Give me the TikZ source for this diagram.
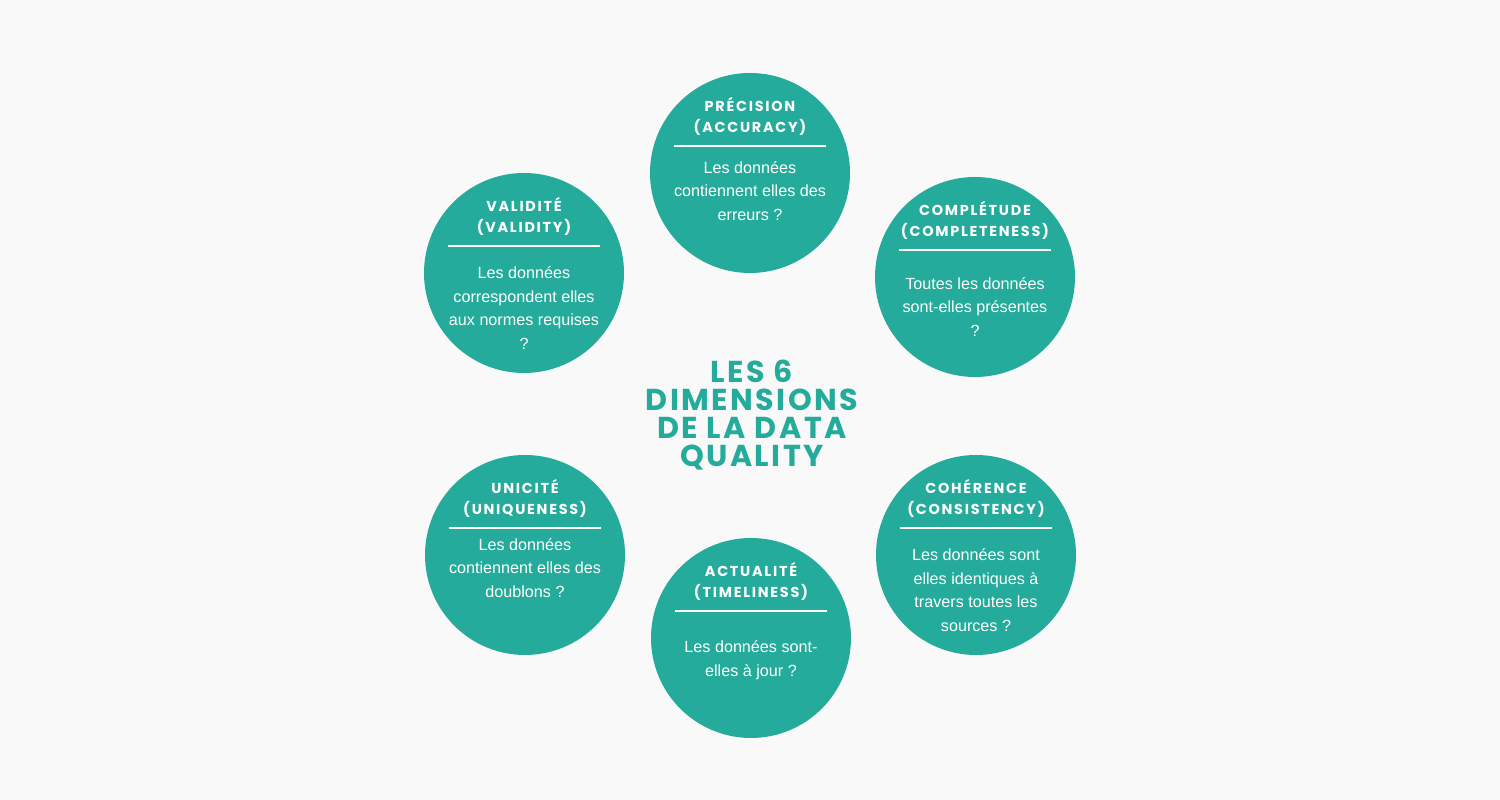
\documentclass[tikz,border=0pt]{standalone}
\usepackage{fontspec}
\setmainfont{Liberation Sans}
\newfontfamily\headfont[LetterSpace=12]{Poppins}
\newfontfamily\titlefont[LetterSpace=8]{Poppins}
\definecolor{teal}{HTML}{24AB9B}
\definecolor{bgray}{HTML}{F9F9F9}
\tikzset{
  disc/.style={circle, fill=teal, minimum size=2cm, inner sep=0pt},
  head/.style={text=white, align=center, font=\headfont\bfseries\fontsize{4.1}{6}\selectfont},
  body/.style={text=white, align=center, font=\fontsize{4.6}{6.7}\selectfont},
  rule/.style={draw=white, line width=0.6pt}
}
% one dimension: name, centre, heading, body, body offset
\newcommand{\dimension}[6]{%
  \node[disc] (#1) at (#2,#3) {};
  \node[head] (#1h) at ([yshift=0.565cm]#1.center) {#4};
  \coordinate (#1l) at ([xshift=-0.76cm, yshift=0.27cm]#1.center);
  \coordinate (#1r) at ([xshift=0.76cm, yshift=0.27cm]#1.center);
  \draw[rule] (#1l) -- (#1r);
  \node[body] (#1b) at ([yshift=#5cm]#1.center) {#6};
}
\begin{document}
\begin{tikzpicture}
  \fill[bgray] (0,0) rectangle (15,8);
  \dimension{prec}{7.50}{6.27}{PRÉCISION\\(ACCURACY)}{-0.18}{Les données\\contiennent elles des\\erreurs ?}
  \dimension{vali}{5.24}{5.27}{VALIDITÉ\\(VALIDITY)}{-0.35}{Les données\\correspondent elles\\aux normes requises\\?}
  \dimension{comp}{9.75}{5.23}{COMPLÉTUDE\\(COMPLETENESS)}{-0.30}{Toutes les données\\sont-elles présentes\\?}
  \dimension{unic}{5.25}{2.45}{UNICITÉ\\(UNIQUENESS)}{-0.13}{Les données\\contiennent elles des\\doublons ?}
  \dimension{actu}{7.51}{1.62}{ACTUALITÉ\\(TIMELINESS)}{-0.22}{Les données sont-\\elles à jour ?}
  \dimension{cohe}{9.76}{2.45}{COHÉRENCE\\(CONSISTENCY)}{-0.35}{Les données sont\\elles identiques à\\travers toutes les\\sources ?}
  \node[text=teal, align=center, font=\titlefont\bfseries\fontsize{8.6}{7.9}\selectfont]
    (title) at (7.52,3.85) {LES 6\\DIMENSIONS\\DE LA DATA\\QUALITY};
\end{tikzpicture}
\end{document}
